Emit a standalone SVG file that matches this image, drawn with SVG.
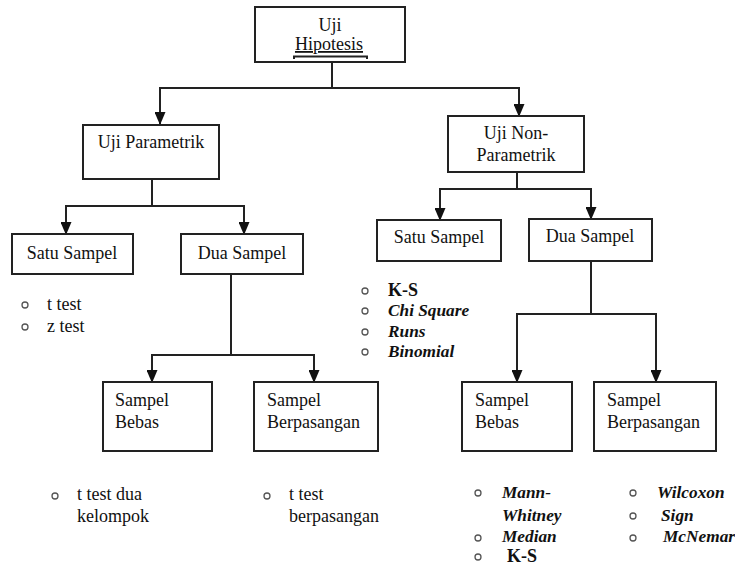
<svg xmlns="http://www.w3.org/2000/svg" width="735" height="567" viewBox="0 0 735 567">
<defs>
<style>
.box{fill:#fff;stroke:#222;stroke-width:2}
.con{fill:none;stroke:#222;stroke-width:2;marker-end:url(#ah)}
.plain{fill:none;stroke:#222;stroke-width:2}
.t{font-family:'Liberation Serif','Times New Roman',Times,'DejaVu Serif',serif;font-size:18px;fill:#111}
.c{text-anchor:middle}
.bi{font-style:italic;font-weight:bold;font-size:17.3px}
.b{font-weight:bold}
.bul{fill:none;stroke:#555;stroke-width:1.3}
</style>
<marker id="ah" markerUnits="userSpaceOnUse" markerWidth="13" markerHeight="11" viewBox="0 0 13 11" refX="12" refY="5.5" orient="auto">
<path d="M0,0 L13,5.5 L0,11 z" fill="#111"/>
</marker>
</defs>
<rect width="735" height="567" fill="#fff"/>

<g id="connectors">
<path class="con" d="M332,62 V88 H160 V124"/>
<path class="con" d="M332,88 H519 V116"/>
<path class="con" d="M152,179 V206 H66 V234"/>
<path class="con" d="M152,206 H244 V234"/>
<path class="con" d="M517,172 V189 H440 V220"/>
<path class="con" d="M517,189 H591 V219"/>
<path class="con" d="M231,274 V355 H152 V382"/>
<path class="con" d="M231,355 H314 V382"/>
<path class="con" d="M591,261 V314 H517 V382"/>
<path class="con" d="M591,314 H656 V382"/>
</g>

<g class="t">
<g id="uji-hipotesis">
<rect class="box" x="255" y="7" width="150" height="55"/>
<text class="c" x="330" y="31">Uji</text>
<text class="c" x="329" y="50" text-decoration="underline">Hipotesis</text>
<path class="plain" stroke-width="1.6" d="M294,59 V56.5 H367 V59"/>
</g>

<g id="uji-parametrik">
<rect class="box" x="83" y="125" width="136" height="54"/>
<text class="c" x="151" y="148">Uji Parametrik</text>
</g>

<g id="uji-nonparametrik">
<rect class="box" x="448" y="116" width="136" height="56"/>
<text class="c" x="516" y="139">Uji Non-</text>
<text class="c" x="516" y="161">Parametrik</text>
</g>

<g id="p-satu-sampel">
<rect class="box" x="12" y="234" width="121" height="40"/>
<text class="c" x="72" y="259">Satu Sampel</text>
</g>

<g id="p-dua-sampel">
<rect class="box" x="181" y="234" width="122" height="40"/>
<text class="c" x="242" y="259">Dua Sampel</text>
</g>

<g id="np-satu-sampel">
<rect class="box" x="377" y="220" width="124" height="41"/>
<text class="c" x="439" y="243">Satu Sampel</text>
</g>

<g id="np-dua-sampel">
<rect class="box" x="529" y="219" width="123" height="42"/>
<text class="c" x="590" y="242">Dua Sampel</text>
</g>

<g id="p-sampel-bebas">
<rect class="box" x="103" y="382" width="109" height="69"/>
<text x="115" y="406">Sampel</text>
<text x="115" y="428">Bebas</text>
</g>

<g id="p-sampel-berpasangan">
<rect class="box" x="254" y="382" width="124" height="69"/>
<text x="267" y="406">Sampel</text>
<text x="267" y="428">Berpasangan</text>
</g>

<g id="np-sampel-bebas">
<rect class="box" x="462" y="382" width="110" height="69"/>
<text x="475" y="406">Sampel</text>
<text x="475" y="428">Bebas</text>
</g>

<g id="np-sampel-berpasangan">
<rect class="box" x="594" y="382" width="122" height="69"/>
<text x="607" y="406">Sampel</text>
<text x="607" y="428">Berpasangan</text>
</g>

<g id="list-p-satu">
<circle class="bul" cx="25" cy="305" r="3"/>
<text x="47" y="310">t test</text>
<circle class="bul" cx="25" cy="327" r="3"/>
<text x="47" y="332">z test</text>
</g>

<g id="list-np-satu">
<circle class="bul" cx="365" cy="291" r="3"/>
<text class="b" x="388" y="296">K-S</text>
<circle class="bul" cx="365" cy="311" r="3"/>
<text class="bi" x="388" y="316">Chi Square</text>
<circle class="bul" cx="365" cy="332" r="3"/>
<text class="bi" x="388" y="337">Runs</text>
<circle class="bul" cx="365" cy="352" r="3"/>
<text class="bi" x="388" y="357">Binomial</text>
</g>

<g id="list-p-bebas">
<circle class="bul" cx="55" cy="496" r="3"/>
<text x="77" y="500">t test dua</text>
<text x="77" y="522">kelompok</text>
</g>

<g id="list-p-berpasangan">
<circle class="bul" cx="267" cy="496" r="3"/>
<text x="289" y="500">t test</text>
<text x="289" y="522">berpasangan</text>
</g>

<g id="list-np-bebas">
<circle class="bul" cx="478" cy="493" r="3"/>
<text class="bi" x="502" y="498">Mann-</text>
<text class="bi" x="502" y="521">Whitney</text>
<circle class="bul" cx="478" cy="538" r="3"/>
<text class="bi" x="502" y="542">Median</text>
<circle class="bul" cx="478" cy="557" r="3"/>
<text class="b" x="507" y="562">K-S</text>
</g>

<g id="list-np-berpasangan">
<circle class="bul" cx="633" cy="493" r="3"/>
<text class="bi" x="657" y="498">Wilcoxon</text>
<circle class="bul" cx="633" cy="516" r="3"/>
<text class="bi" x="661" y="521">Sign</text>
<circle class="bul" cx="633" cy="538" r="3"/>
<text class="bi" x="663" y="542">McNemar</text>
</g>
</g>
</svg>
